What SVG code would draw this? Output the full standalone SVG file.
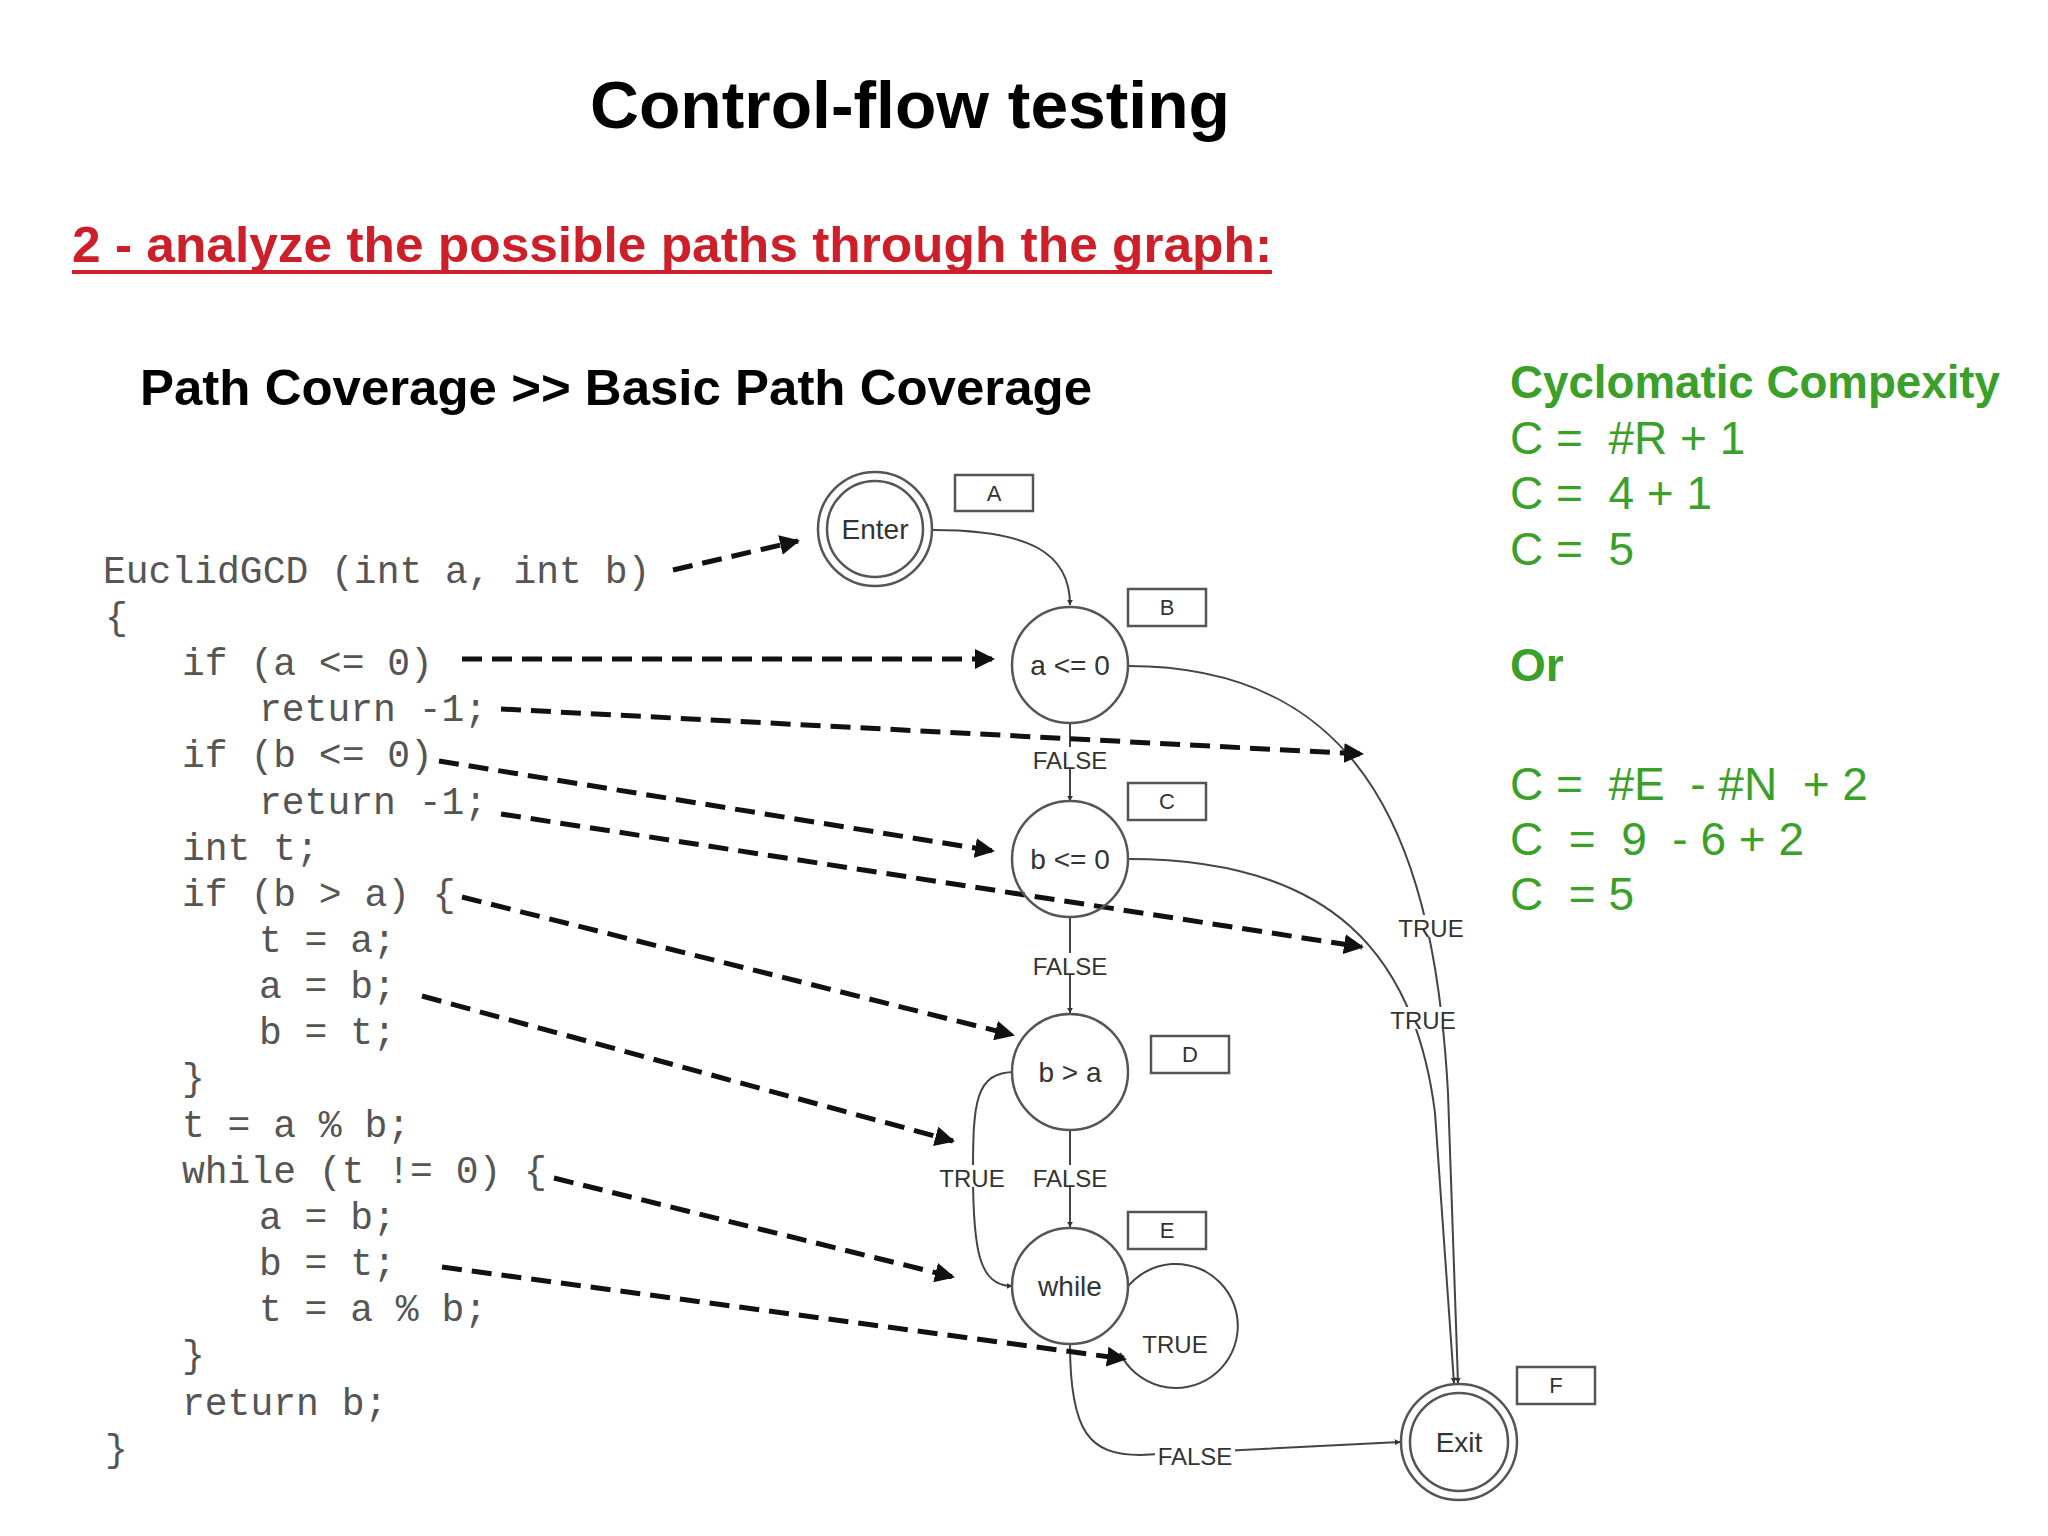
<svg xmlns="http://www.w3.org/2000/svg" width="2048" height="1536" viewBox="0 0 2048 1536">
<defs>
<marker id="ah" viewBox="0 0 10 10" refX="9" refY="5" markerWidth="6" markerHeight="6" markerUnits="userSpaceOnUse" orient="auto"><path d="M0,0 L10,5 L0,10 z" fill="#333"/></marker>
<marker id="dh" viewBox="0 0 10 10" refX="9" refY="5" markerWidth="4" markerHeight="4" orient="auto"><path d="M0,0 L10,5 L0,10 z" fill="#111"/></marker>
<style>
.code{font-family:"Liberation Mono",monospace;font-size:38px;fill:#555}
.n{fill:#fff;stroke:#555;stroke-width:2.5}
.nt{font-family:"Liberation Sans",Arial,sans-serif;font-size:28px;fill:#333;text-anchor:middle}
.bx{fill:#fff;stroke:#555;stroke-width:2.5}
.bt{font-family:"Liberation Sans",Arial,sans-serif;font-size:22px;fill:#333;text-anchor:middle}
.e{fill:none;stroke:#444;stroke-width:2;marker-end:url(#ah)}
.el{font-family:"Liberation Sans",Arial,sans-serif;font-size:24px;fill:#333;text-anchor:middle}
.d{fill:none;stroke:#111;stroke-width:5;stroke-dasharray:20 10;marker-end:url(#dh)}
.g{font-family:"Liberation Sans",Arial,sans-serif;font-size:46px;fill:#3aa02a}
</style>
</defs>
<rect width="2048" height="1536" fill="#fff"/>
<text x="910" y="128" text-anchor="middle" font-family="Liberation Sans,Arial,sans-serif" font-weight="bold" font-size="66" textLength="640" lengthAdjust="spacingAndGlyphs">Control-flow testing</text>
<text x="72" y="262" font-family="Liberation Sans,Arial,sans-serif" font-weight="bold" font-size="50" fill="#cc1f2a" textLength="1200" lengthAdjust="spacingAndGlyphs">2 - analyze the possible paths through the graph:</text>
<line x1="72" y1="272" x2="1272" y2="272" stroke="#cc1f2a" stroke-width="4"/>
<text x="140" y="405" font-family="Liberation Sans,Arial,sans-serif" font-weight="bold" font-size="50" textLength="952" lengthAdjust="spacingAndGlyphs">Path Coverage &gt;&gt; Basic Path Coverage</text>
<g id="cc" transform="translate(-17,-4)">
<text class="g" x="1527" y="402" font-weight="bold" textLength="490" lengthAdjust="spacingAndGlyphs">Cyclomatic Compexity</text>
<text class="g" x="1527" y="458" xml:space="preserve">C =  #R + 1</text>
<text class="g" x="1527" y="513" xml:space="preserve">C =  4 + 1</text>
<text class="g" x="1527" y="569" xml:space="preserve">C =  5</text>
<text class="g" x="1527" y="685" font-weight="bold">Or</text>
<text class="g" x="1527" y="804" xml:space="preserve">C =  #E  - #N  + 2</text>
<text class="g" x="1527" y="859" xml:space="preserve">C  =  9  - 6 + 2</text>
<text class="g" x="1527" y="914" xml:space="preserve">C  = 5</text>
</g>
<g id="code" class="code" xml:space="preserve" transform="translate(0,-4)">
<text x="103" y="587">EuclidGCD (int a, int b)</text>
<text x="105" y="633">{</text>
<text x="182" y="679">if (a &lt;= 0)</text>
<text x="259" y="725">return -1;</text>
<text x="182" y="771">if (b &lt;= 0)</text>
<text x="259" y="818">return -1;</text>
<text x="182" y="864">int t;</text>
<text x="182" y="910">if (b &gt; a) {</text>
<text x="259" y="956">t = a;</text>
<text x="259" y="1002">a = b;</text>
<text x="259" y="1048">b = t;</text>
<text x="182" y="1094">}</text>
<text x="182" y="1141">t = a % b;</text>
<text x="182" y="1187">while (t != 0) {</text>
<text x="259" y="1233">a = b;</text>
<text x="259" y="1279">b = t;</text>
<text x="259" y="1325">t = a % b;</text>
<text x="182" y="1371">}</text>
<text x="182" y="1419">return b;</text>
<text x="105" y="1465">}</text>
</g>
<g id="graph" transform="translate(-10,-7)">
<g id="connectors">
<path class="e" d="M943,537 C1040,537 1080,560 1080,612"/>
<path class="e" d="M1080,730 L1080,808"/>
<path class="e" d="M1080,924 L1080,1020"/>
<path class="e" d="M1080,1137 L1080,1234"/>
<path class="e" d="M1025,1079 C985,1079 983,1110 983,1180 C983,1260 990,1293 1022,1293"/>
<path class="e" d="M1136,1296 A62,62 0 1 1 1130,1360"/>
<path class="e" d="M1080,1351 C1080,1440 1100,1462 1150,1462 L1410,1449"/>
<path class="e" d="M1138,673 C1380,673 1445,860 1458,1100 L1468,1390"/>
<path class="e" d="M1138,866 C1340,866 1425,960 1445,1120 L1464,1390"/>
<g class="el">
<rect x="1040" y="754" width="80" height="22" fill="#fff"/><text x="1080" y="776">FALSE</text>
<rect x="1040" y="960" width="80" height="22" fill="#fff"/><text x="1080" y="982">FALSE</text>
<rect x="1040" y="1172" width="80" height="22" fill="#fff"/><text x="1080" y="1194">FALSE</text>
<rect x="948" y="1172" width="70" height="22" fill="#fff"/><text x="982" y="1194">TRUE</text>
<text x="1185" y="1360">TRUE</text>
<rect x="1165" y="1450" width="80" height="22" fill="#fff"/><text x="1205" y="1472">FALSE</text>
<rect x="1405" y="922" width="70" height="22" fill="#fff"/><text x="1441" y="944">TRUE</text>
<rect x="1398" y="1014" width="70" height="22" fill="#fff"/><text x="1433" y="1036">TRUE</text>
</g>
<path class="d" d="M683,577 L808,548"/>
<path class="d" d="M472,666 L1003,666"/>
<path class="d" d="M511,716 L1372,761"/>
<path class="d" d="M449,768 L1003,858"/>
<path class="d" d="M511,821 L1372,954"/>
<path class="d" d="M472,904 L1023,1042"/>
<path class="d" d="M432,1003 L963,1148"/>
<path class="d" d="M564,1185 L963,1284"/>
<path class="d" d="M452,1274 L1135,1366"/>
</g>
<g id="A"><circle class="n" cx="885" cy="536" r="57"/><circle class="n" cx="885" cy="536" r="48"/><text class="nt" x="885" y="546">Enter</text>
<rect class="bx" x="965" y="482" width="78" height="36"/><text class="bt" x="1004" y="508">A</text></g>
<g id="B"><circle class="n" cx="1080" cy="672" r="58"/><text class="nt" x="1080" y="682">a &lt;= 0</text>
<rect class="bx" x="1138" y="596" width="78" height="37"/><text class="bt" x="1177" y="622">B</text></g>
<g id="C"><circle class="n" cx="1080" cy="866" r="58" fill-opacity="0"/><text class="nt" x="1080" y="876">b &lt;= 0</text>
<rect class="bx" x="1138" y="790" width="78" height="37"/><text class="bt" x="1177" y="816">C</text></g>
<g id="D"><circle class="n" cx="1080" cy="1079" r="58"/><text class="nt" x="1080" y="1089">b &gt; a</text>
<rect class="bx" x="1161" y="1043" width="78" height="37"/><text class="bt" x="1200" y="1069">D</text></g>
<g id="E"><circle class="n" cx="1080" cy="1293" r="58"/><text class="nt" x="1080" y="1303">while</text>
<rect class="bx" x="1138" y="1219" width="78" height="37"/><text class="bt" x="1177" y="1245">E</text></g>
<g id="F"><circle class="n" cx="1469" cy="1449" r="58"/><circle class="n" cx="1469" cy="1449" r="49"/><text class="nt" x="1469" y="1459">Exit</text>
<rect class="bx" x="1527" y="1374" width="78" height="37"/><text class="bt" x="1566" y="1400">F</text></g>
</g>
</svg>
